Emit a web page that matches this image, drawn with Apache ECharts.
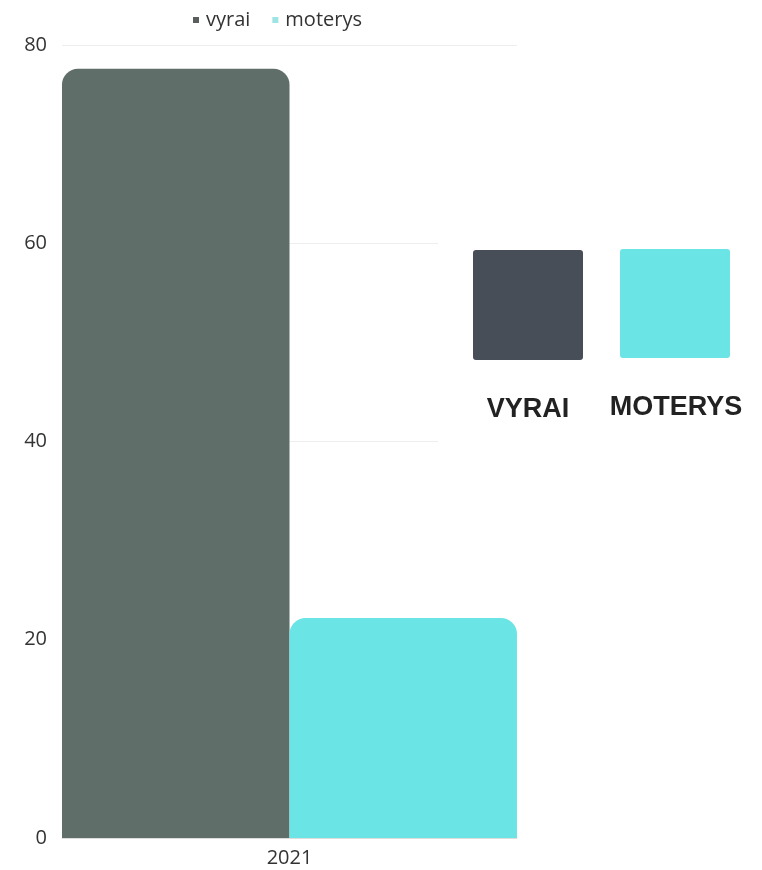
<!DOCTYPE html>
<html>
<head>
<meta charset="utf-8">
<script src="https://cdn.jsdelivr.net/npm/echarts@6/dist/echarts.min.js"></script>
<style>html,body{margin:0;padding:0;background:#fff;}#c{width:762px;height:870px;}</style>
</head>
<body>
<div id="c"></div>
<script>
const categories = ['2021'];
const seriesNames = ['vyrai', 'moterys'];
const vyrai = [77.6];
const moterys = [22.2];
const legendLabels = ['VYRAI', 'MOTERYS'];

const chart = echarts.init(document.getElementById('c'));
chart.setOption({
  animation: false,
  backgroundColor: '#fff',
  legend: {
    top: 5, left: 188,
    itemWidth: 6, itemHeight: 6, itemGap: 22,
    icon: 'rect',
    textStyle: { fontFamily: 'Open Sans', fontSize: 20, color: '#333', padding: [0, 0, 0, 2] },
    data: [
      { name: seriesNames[0], itemStyle: { color: '#5a5f5e' } },
      { name: seriesNames[1], itemStyle: { color: '#9fe3e3' } }
    ]
  },
  grid: { left: 62, right: 245, top: 45, bottom: 32 },
  xAxis: {
    type: 'category', data: categories,
    axisTick: { show: false },
    axisLine: { lineStyle: { color: '#ddd' } },
    axisLabel: { fontFamily: 'Open Sans', fontSize: 20, color: '#333', margin: 10 }
  },
  yAxis: {
    type: 'value', min: 0, max: 80, interval: 20,
    axisLabel: { fontFamily: 'Open Sans', fontSize: 20, color: '#333', margin: 15 },
    splitLine: { lineStyle: { color: '#eee' } }
  },
  series: [
    { name: seriesNames[0], type: 'bar', data: vyrai, barGap: '0%', barCategoryGap: '0%',
      itemStyle: { color: '#5f6e69', borderRadius: [16, 16, 0, 0] } },
    { name: seriesNames[1], type: 'bar', data: moterys,
      itemStyle: { color: '#6be4e6', borderRadius: [16, 16, 0, 0] } }
  ],
  graphic: [
    { type: 'rect', shape: { x: 438, y: 200, width: 324, height: 280 }, style: { fill: '#fff' }, z: 100 },
    { type: 'rect', shape: { x: 473, y: 250, width: 110, height: 110, r: 3 }, style: { fill: '#484e57' }, z: 101 },
    { type: 'rect', shape: { x: 620, y: 249, width: 110, height: 109, r: 3 }, style: { fill: '#6be4e6' }, z: 101 },
    { type: 'text', x: 528, y: 410, style: { text: legendLabels[0], fill: '#222', font: 'bold 27px "Liberation Sans", Arial, sans-serif', textAlign: 'center', textVerticalAlign: 'middle' }, z: 101 },
    { type: 'text', x: 676, y: 408, style: { text: legendLabels[1], fill: '#222', font: 'bold 27px "Liberation Sans", Arial, sans-serif', textAlign: 'center', textVerticalAlign: 'middle' }, z: 101 }
  ]
});
</script>
</body>
</html>
